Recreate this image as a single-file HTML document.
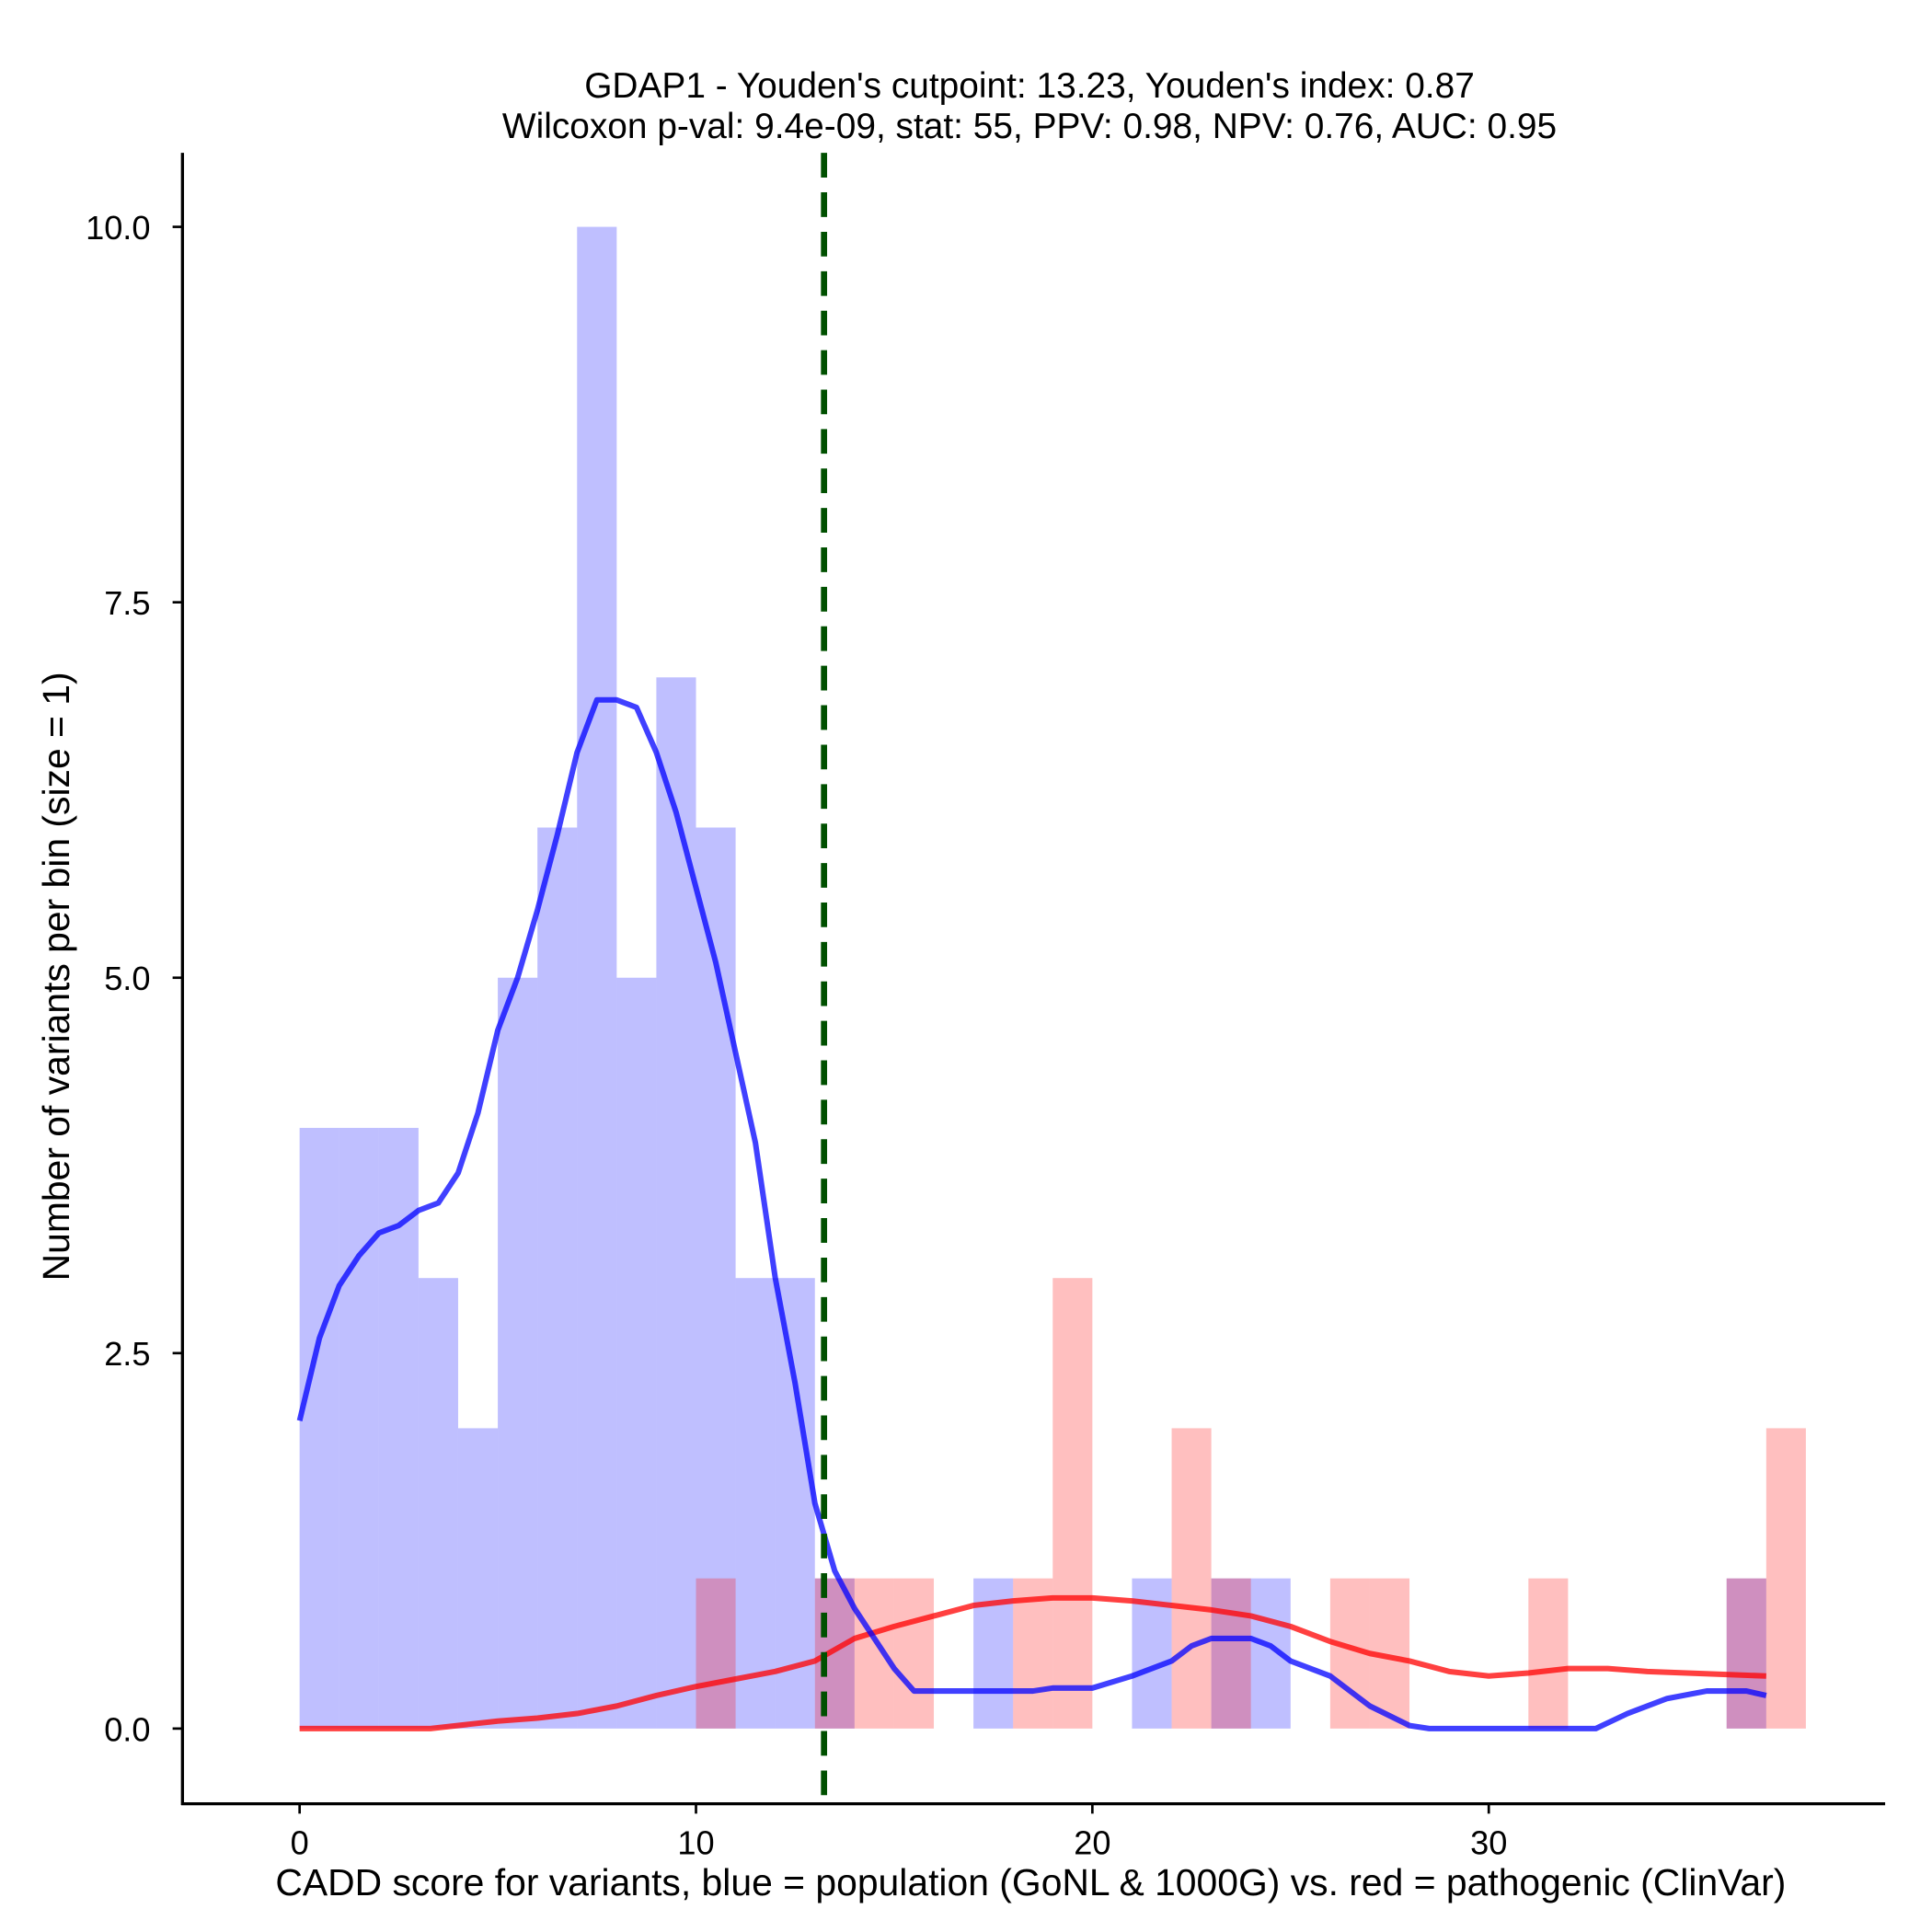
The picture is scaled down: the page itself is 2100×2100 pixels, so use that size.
<!DOCTYPE html>
<html><head><meta charset="utf-8"><style>
html,body{margin:0;padding:0;background:#fff}
svg{display:block}
text{font-family:"Liberation Sans",Arial,sans-serif;fill:#000}
</style></head><body>
<svg id="chart" width="2100" height="2100" viewBox="0 0 1567 1567" xmlns="http://www.w3.org/2000/svg">
<rect width="1567" height="1567" fill="#fff"/>
<g id="title">
<text x="835" y="79" font-size="29" text-anchor="middle">GDAP1 - Youden's cutpoint: 13.23, Youden's index: 0.87</text>
<text x="835" y="112" font-size="29" text-anchor="middle">Wilcoxon p-val: 9.4e-09, stat: 55, PPV: 0.98, NPV: 0.76, AUC: 0.95</text>
</g>
<g id="bars-blue"></g>
<g id="bars-red"></g>
<g id="curves"></g>
<g id="axes"></g>
<text x="836" y="1537" font-size="30.5" text-anchor="middle">CADD score for variants, blue = population (GoNL &amp; 1000G) vs. red = pathogenic (ClinVar)</text>
<text transform="translate(56,792) rotate(-90)" font-size="30.5" text-anchor="middle">Number of variants per bin (size = 1)</text>
</svg>
<script>
const blueCounts=[4,4,4,3,2,5,6,10,5,7,6,3,3,1,0,0,0,1,0,0,0,1,0,1,1,0,0,0,0,0,0,0,0,0,0,0,1,0];
const redCounts=[0,0,0,0,0,0,0,0,0,0,1,0,0,1,1,1,0,0,1,3,0,0,2,1,0,0,1,1,0,0,0,1,0,0,0,0,1,2];
const blueDensX=[0,0.5,1,1.5,2,2.5,3,3.5,4,4.5,5,5.5,6,6.5,7,7.5,8,8.5,9,9.5,10,10.5,11,11.5,12,12.5,13,13.5,14,14.5,15,15.5,16,17,18,18.5,19,20,21,22,22.5,23,24,24.5,25,26,27,28,28.5,30,32,32.7,33.5,34.5,35.5,36.5,37];
const blueDensY=[2.05,2.6,2.95,3.15,3.3,3.35,3.45,3.5,3.7,4.1,4.65,5.0,5.45,5.95,6.5,6.85,6.85,6.8,6.5,6.1,5.6,5.1,4.5,3.9,3.0,2.3,1.5,1.05,0.8,0.6,0.4,0.25,0.25,0.25,0.25,0.25,0.27,0.27,0.35,0.45,0.55,0.6,0.6,0.55,0.45,0.35,0.15,0.02,0,0,0,0,0.1,0.2,0.25,0.25,0.22];
const redDensX=[0,1,2,3,3.3,5,6,7,8,9,10,11,12,13,14,15,16,17,18,19,20,21,22,23,24,25,26,27,28,29,30,31,32,33,34,35,36,37];
const redDensY=[0,0,0,0,0,0.05,0.07,0.1,0.15,0.22,0.28,0.33,0.38,0.45,0.6,0.68,0.75,0.82,0.85,0.87,0.87,0.85,0.82,0.79,0.75,0.68,0.58,0.5,0.45,0.38,0.35,0.37,0.4,0.4,0.38,0.37,0.36,0.35];
const cutpoint=13.23;
const xTicks=[0,10,20,30];
const yTicks=[0,2.5,5,7.5,10];
const yTickLabels=["0.0","2.5","5.0","7.5","10.0"];
const NS="http://www.w3.org/2000/svg";
const X=v=>243+v*32.15, Y=v=>1402-v*121.8;
function mk(tag,attrs,parent){const e=document.createElementNS(NS,tag);for(const k in attrs)e.setAttribute(k,attrs[k]);parent.appendChild(e);return e;}
const gb=document.getElementById('bars-blue'),gr=document.getElementById('bars-red'),gc=document.getElementById('curves'),ga=document.getElementById('axes');
blueCounts.forEach((c,i)=>{if(!c)return;const r=mk('rect',{x:X(i),y:Y(c),width:X(i+1)-X(i),height:Y(0)-Y(c),fill:'rgba(0,0,255,0.25)'},gb);

});
redCounts.forEach((c,i)=>{if(!c)return;const r=mk('rect',{x:X(i),y:Y(c),width:X(i+1)-X(i),height:Y(0)-Y(c),fill:'rgba(255,0,0,0.25)'},gr);

});
function line(xs,ys,col,name){const p=mk('polyline',{points:xs.map((x,i)=>X(x)+','+Y(ys[i])).join(' '),fill:'none',stroke:col,'stroke-width':4.5,'stroke-linejoin':'round'},gc);

}
line(redDensX,redDensY,'rgba(255,0,0,0.75)','red-density-line');
line(blueDensX,blueDensY,'rgba(0,0,255,0.75)','blue-density-line');
const cl=mk('line',{x1:X(cutpoint),x2:X(cutpoint),y1:124,y2:1463,stroke:'#005000','stroke-width':5,'stroke-dasharray':'20,12'},gc);


mk('line',{x1:148,x2:148,y1:124,y2:1464,stroke:'#000','stroke-width':2.5},ga);
mk('line',{x1:147,x2:1529,y1:1463,y2:1463,stroke:'#000','stroke-width':2.5},ga);
xTicks.forEach(t=>{mk('line',{x1:X(t),x2:X(t),y1:1463,y2:1471,stroke:'#000','stroke-width':2},ga);
const tx=mk('text',{x:X(t),y:1504,'font-size':27,'text-anchor':'middle'},ga);tx.textContent=t;

});
yTicks.forEach((t,i)=>{mk('line',{x1:140,x2:148,y1:Y(t),y2:Y(t),stroke:'#000','stroke-width':2},ga);
const tx=mk('text',{x:122,y:Y(t)+10,'font-size':27,'text-anchor':'end'},ga);tx.textContent=yTickLabels[i];

});
</script>
</body></html>
